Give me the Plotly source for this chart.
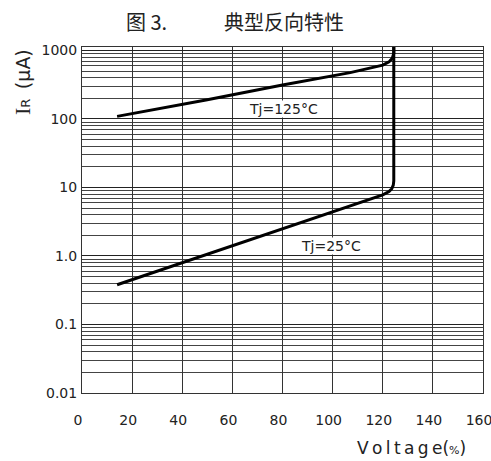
import plotly.graph_objects as go

# Data
v_125 = [14, 50, 80, 107, 120, 122.5, 123.8, 124.4, 124.4]
i_125 = [109, 190, 312, 474, 610, 680, 770, 900, 1250]

v_25 = [14, 50, 80, 107, 120, 122.5, 123.6, 124.2, 124.4, 124.4]
i_25 = [0.38, 1.06, 2.5, 5.3, 7.8, 8.7, 9.6, 10.8, 12.5, 1250]

x_ticks = [0, 20, 40, 60, 80, 100, 120, 140, 160]
y_ticks = [0.01, 0.1, 1, 10, 100, 1000]
y_ticktext = ["0.01", "0.1", "1.0", "10", "100", "1000"]
minor_mult = [2, 3, 4, 5, 6, 7, 8, 9]
y_minor = [d * m for d in [0.01, 0.1, 1, 10, 100] for m in minor_mult] + [1100]

FONT = "DejaVu Sans"

W, H = 491, 461
PL, PR, PT, PB = 81.7, 482.7, 47.3, 393.3


def px(xp):
    return (xp - PL) / (PR - PL)


def py(yp):
    return (PB - yp) / (PB - PT)


fig = go.Figure()
fig.add_trace(go.Scatter(x=v_125, y=i_125, mode="lines", hoverinfo="skip",
                         line=dict(color="black", width=3), showlegend=False))
fig.add_trace(go.Scatter(x=v_25, y=i_25, mode="lines", hoverinfo="skip",
                         line=dict(color="black", width=3), showlegend=False))

fig.update_layout(
    width=W, height=H, autosize=False,
    margin=dict(l=PL, r=W - PR, t=PT, b=H - PB, pad=0),
    paper_bgcolor="white", plot_bgcolor="white",
    font=dict(family=FONT, size=14, color="#222"),
    xaxis=dict(range=[0, 160], tickmode="array", tickvals=x_ticks,
               showgrid=True, gridcolor="#333", gridwidth=1,
               showline=True, linecolor="#333", linewidth=1, mirror=True,
               ticks="", zeroline=False, ticklabelshift=-4, ticklabelstandoff=14,
               ticklabeloverflow="allow", automargin=False,
               tickfont=dict(family=FONT, size=14, color="#222")),
    yaxis=dict(type="log", range=[-2, 3.05], tickmode="array",
               tickvals=y_ticks, ticktext=y_ticktext,
               showgrid=True, gridcolor="#222", gridwidth=1,
               showline=True, linecolor="#333", linewidth=1, mirror=True,
               ticks="", zeroline=False, ticklabelstandoff=1, automargin=False,
               ticklabeloverflow="allow",
               tickfont=dict(family=FONT, size=14, color="#222")),
)
fig.update_yaxes(minor=dict(tickmode="array", tickvals=y_minor, showgrid=True,
                            gridcolor="#444", gridwidth=1, ticks=""))

# Title (two parts)
fig.add_annotation(text="图 3.", xref="paper", yref="paper", x=px(146), y=py(22),
                   showarrow=False, xanchor="center", yanchor="middle",
                   font=dict(family="Noto Sans CJK SC", size=20, color="#222"))
fig.add_annotation(text="典型反向特性", xref="paper", yref="paper", x=px(284), y=py(22),
                   showarrow=False, xanchor="center", yanchor="middle",
                   font=dict(family="Noto Sans CJK SC", size=20, color="#222"))

# Y title
fig.add_annotation(text="<span style='font-family:Liberation Serif;font-size:22px'>I</span>"
                        "<span style='font-size:13px'>R</span>\u2002(µA)",
                   xref="paper", yref="paper",
                   x=px(22), y=py(82), textangle=-90, showarrow=False,
                   xanchor="center", yanchor="middle",
                   font=dict(family=FONT, size=19, color="#222"))

# X title
ts = "\u2009"
fig.add_annotation(text=ts.join("Voltage") + "(<span style='font-size:11px'>%</span>)",
                   xref="paper", yref="paper", x=px(411), y=py(448),
                   showarrow=False, xanchor="center", yanchor="middle",
                   font=dict(family=FONT, size=17, color="#222"))

# Curve labels
fig.add_annotation(text="Tj=125°C", x=80.3, y=2.15, xref="x", yref="y", showarrow=False,
                   bgcolor="white", borderpad=0,
                   font=dict(family=FONT, size=14, color="#222"))
fig.add_annotation(text="Tj=25°C", x=99.5, y=0.14, xref="x", yref="y", showarrow=False,
                   bgcolor="white", borderpad=0,
                   font=dict(family=FONT, size=14, color="#222"))

fig.write_html("out.html", config={"displayModeBar": False, "staticPlot": True},
               post_script="document.body.style.margin='0';document.body.style.overflow='hidden';")
